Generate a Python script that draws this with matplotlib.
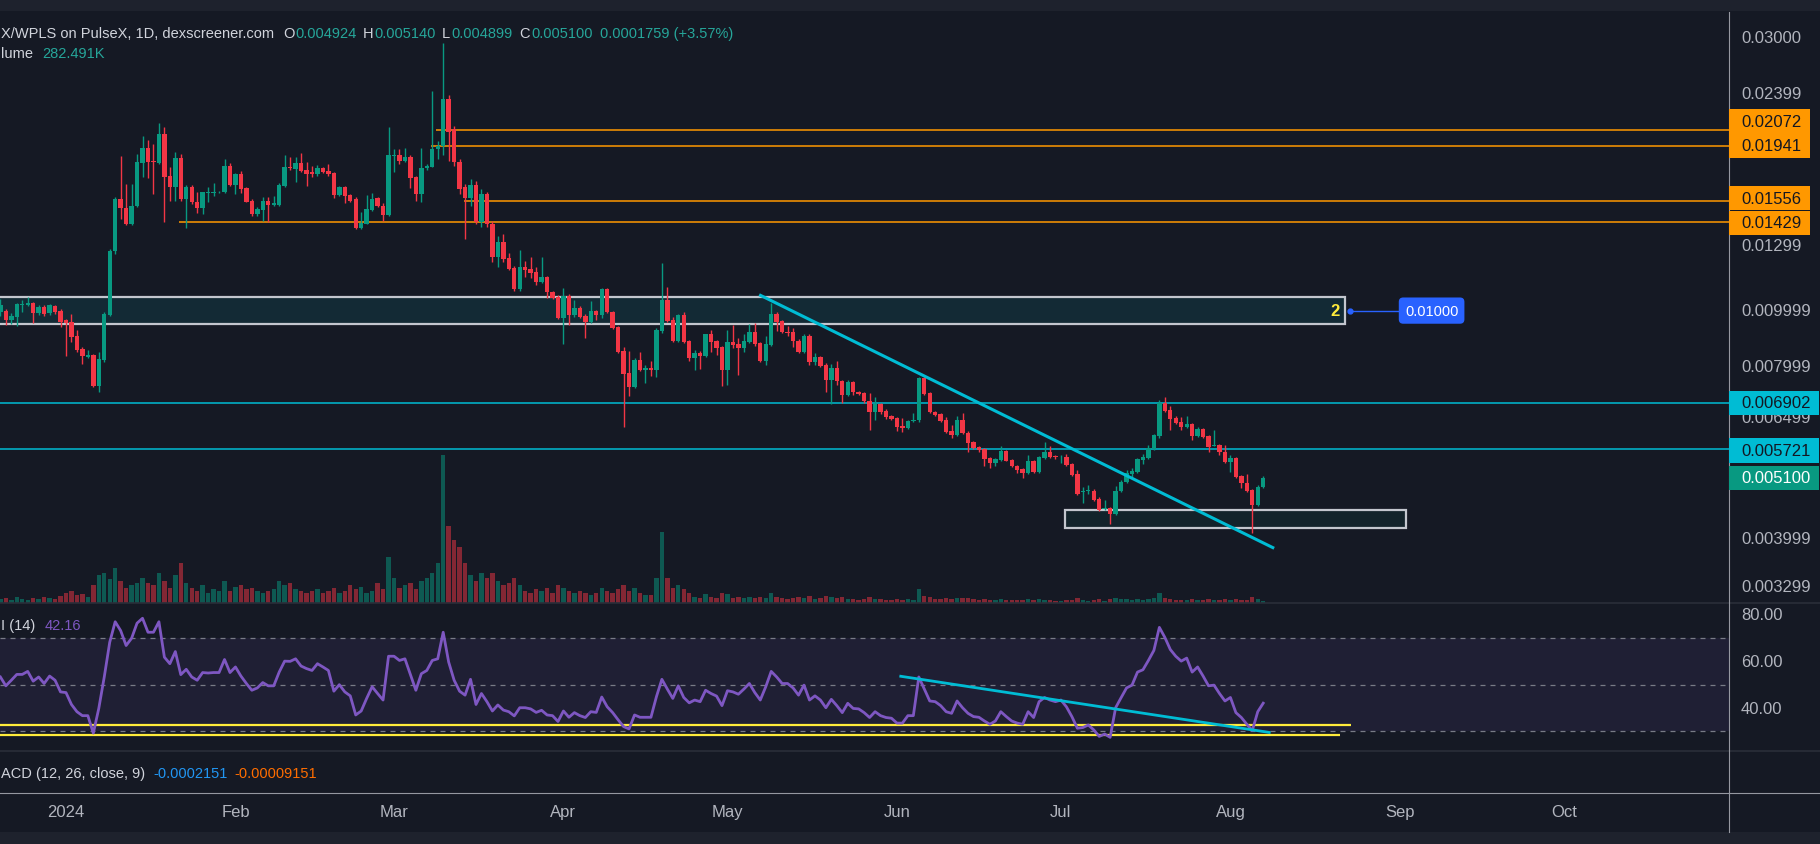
import numpy as np
import pandas as pd
import matplotlib
matplotlib.use("Agg")
import matplotlib.pyplot as plt
from matplotlib.patches import Rectangle
from matplotlib.lines import Line2D

plt.rcParams['font.family'] = ['Liberation Sans', 'DejaVu Sans']

# ---------------- data ----------------
start_date = "2023-12-20"
ref_date = "2024-01-01"

opens = [
    0.00994, 0.00999, 0.00961, 0.00976, 0.01021, 0.01021, 0.01032, 0.00991, 0.01014, 0.00990, 0.01018, 0.00999,
    0.00961, 0.00955, 0.00903, 0.00857, 0.00829, 0.00837, 0.00737, 0.00820, 0.00984, 0.01270,
    0.01567, 0.01509, 0.01418, 0.01525, 0.01811, 0.01924, 0.01828, 0.01811, 0.02035, 0.01721,
    0.01646, 0.01845, 0.01567, 0.01642, 0.01547, 0.01509, 0.01605, 0.01607, 0.01610, 0.01610,
    0.01787, 0.01660, 0.01733, 0.01636, 0.01556, 0.01476, 0.01501, 0.01556, 0.01531, 0.01531,
    0.01653, 0.01785, 0.01768, 0.01811, 0.01761, 0.01745, 0.01731, 0.01775, 0.01756, 0.01740,
    0.01595, 0.01646, 0.01593, 0.01567, 0.01393, 0.01418, 0.01501, 0.01573, 0.01525, 0.01470,
    0.01865, 0.01870, 0.01828, 0.01858, 0.01710, 0.01599, 0.01773, 0.01785, 0.01916, 0.01937,
    0.02342, 0.02076, 0.01821, 0.01644, 0.01573, 0.01658, 0.01427, 0.01599, 0.01418, 0.01243,
    0.01318, 0.01236, 0.01187, 0.01091, 0.01192, 0.01182, 0.01168, 0.01123, 0.01145, 0.01078,
    0.01057, 0.00971, 0.01061, 0.00983, 0.01011, 0.00979, 0.00956, 0.00999, 0.00983, 0.01091,
    0.00995, 0.00937, 0.00850, 0.00779, 0.00736, 0.00820, 0.00788, 0.00794, 0.00788, 0.00922,
    0.01044, 0.00963, 0.00885, 0.00983, 0.00885, 0.00826, 0.00844, 0.00833, 0.00910, 0.00885,
    0.00864, 0.00788, 0.00882, 0.00875, 0.00861, 0.00882, 0.00918, 0.00878, 0.00817, 0.00871,
    0.00987, 0.00959, 0.00918, 0.00916, 0.00885, 0.00847, 0.00903, 0.00813, 0.00830, 0.00804,
    0.00757, 0.00794, 0.00754, 0.00713, 0.00751, 0.00721, 0.00718, 0.00695, 0.00665, 0.00687,
    0.00668, 0.00655, 0.00649, 0.00629, 0.00624, 0.00642, 0.00643, 0.00763, 0.00718, 0.00665,
    0.00660, 0.00644, 0.00616, 0.00607, 0.00644, 0.00611, 0.00590, 0.00578, 0.00573, 0.00553,
    0.00542, 0.00549, 0.00569, 0.00549, 0.00535, 0.00529, 0.00521, 0.00547, 0.00523, 0.00553,
    0.00566, 0.00558, 0.00554, 0.00555, 0.00540, 0.00518, 0.00482, 0.00484, 0.00484, 0.00469,
    0.00450, 0.00452, 0.00441, 0.00484, 0.00502, 0.00518, 0.00523, 0.00549, 0.00553, 0.00573,
    0.00604, 0.00690, 0.00670, 0.00649, 0.00639, 0.00626, 0.00634, 0.00604, 0.00621, 0.00604,
    0.00581, 0.00583, 0.00566, 0.00544, 0.00553, 0.00514, 0.00500, 0.00486, 0.00458, 0.004924,
]
highs = [
    0.01048, 0.01007, 0.00991, 0.01030, 0.01044, 0.01058, 0.01035, 0.01021, 0.01021, 0.01025, 0.01023, 0.01007,
    0.00967, 0.00987, 0.00925, 0.00863, 0.00854, 0.00840, 0.00846, 0.00994, 0.01281, 0.01578,
    0.01865, 0.01665, 0.01665, 0.01878, 0.02016, 0.01989, 0.01955, 0.02124, 0.02090, 0.01780,
    0.01895, 0.01878, 0.01660, 0.01658, 0.01610, 0.01614, 0.01642, 0.01671, 0.01620, 0.01840,
    0.01811, 0.01738, 0.01756, 0.01642, 0.01567, 0.01515, 0.01582, 0.01578, 0.01588, 0.01671,
    0.01870, 0.01858, 0.01853, 0.01886, 0.01816, 0.01792, 0.01797, 0.01780, 0.01804, 0.01749,
    0.01653, 0.01653, 0.01599, 0.01578, 0.01485, 0.01595, 0.01603, 0.01582, 0.01540, 0.02096,
    0.01916, 0.01916, 0.01921, 0.01870, 0.01721, 0.01924, 0.01804, 0.02422, 0.01981, 0.02935,
    0.02381, 0.02104, 0.01840, 0.01665, 0.01698, 0.01685, 0.01631, 0.01612, 0.01435, 0.01352,
    0.01361, 0.01261, 0.01197, 0.01276, 0.01221, 0.01239, 0.01190, 0.01239, 0.01150, 0.01082,
    0.01065, 0.01094, 0.01070, 0.01044, 0.01019, 0.00987, 0.01039, 0.01003, 0.01095, 0.01095,
    0.00999, 0.00940, 0.00864, 0.00849, 0.00825, 0.00846, 0.00804, 0.00816, 0.00933, 0.01211,
    0.01098, 0.00974, 0.00987, 0.00994, 0.00889, 0.00854, 0.00850, 0.00912, 0.00926, 0.00889,
    0.00868, 0.00925, 0.00944, 0.00894, 0.00910, 0.00948, 0.00951, 0.00882, 0.00904, 0.01032,
    0.00994, 0.00963, 0.00939, 0.00932, 0.00892, 0.00910, 0.00912, 0.00842, 0.00833, 0.00809,
    0.00807, 0.00817, 0.00757, 0.00757, 0.00754, 0.00724, 0.00721, 0.00717, 0.00705, 0.00690,
    0.00673, 0.00657, 0.00651, 0.00649, 0.00643, 0.00662, 0.00766, 0.00766, 0.00721, 0.00667,
    0.00662, 0.00651, 0.00631, 0.00654, 0.00662, 0.00616, 0.00592, 0.00580, 0.00575, 0.00555,
    0.00553, 0.00581, 0.00571, 0.00551, 0.00538, 0.00531, 0.00560, 0.00549, 0.00558, 0.00590,
    0.00581, 0.00560, 0.00559, 0.00562, 0.00542, 0.00527, 0.00491, 0.00495, 0.00488, 0.00472,
    0.00467, 0.00454, 0.00493, 0.00506, 0.00527, 0.00531, 0.00553, 0.00562, 0.00583, 0.00609,
    0.00698, 0.00707, 0.00682, 0.00654, 0.00651, 0.00654, 0.00637, 0.00625, 0.00624, 0.00607,
    0.00619, 0.00585, 0.00583, 0.00559, 0.00555, 0.00516, 0.00518, 0.00488, 0.00496, 0.005140,
]
lows = [
    0.00980, 0.00942, 0.00948, 0.00939, 0.00994, 0.01018, 0.00951, 0.00983, 0.00980, 0.00983, 0.00987, 0.00935,
    0.00834, 0.00883, 0.00846, 0.00807, 0.00825, 0.00735, 0.00720, 0.00812, 0.00980, 0.01256,
    0.01446, 0.01412, 0.01412, 0.01515, 0.01710, 0.01703, 0.01599, 0.01804, 0.01427, 0.01556,
    0.01556, 0.01556, 0.01393, 0.01536, 0.01480, 0.01476, 0.01547, 0.01588, 0.01603, 0.01605,
    0.01653, 0.01599, 0.01605, 0.01547, 0.01466, 0.01466, 0.01436, 0.01431, 0.01525, 0.01525,
    0.01646, 0.01763, 0.01680, 0.01749, 0.01649, 0.01710, 0.01721, 0.01740, 0.01721, 0.01573,
    0.01588, 0.01540, 0.01547, 0.01389, 0.01389, 0.01414, 0.01495, 0.01515, 0.01436, 0.01466,
    0.01749, 0.01804, 0.01821, 0.01636, 0.01556, 0.01547, 0.01763, 0.01780, 0.01840, 0.01870,
    0.01828, 0.01792, 0.01599, 0.01334, 0.01525, 0.01418, 0.01399, 0.01399, 0.01215, 0.01190,
    0.01215, 0.01179, 0.01082, 0.01083, 0.01144, 0.01141, 0.01109, 0.01118, 0.01052, 0.01048,
    0.00967, 0.00875, 0.00942, 0.00976, 0.00971, 0.00896, 0.00952, 0.00961, 0.00971, 0.00991,
    0.00929, 0.00843, 0.00626, 0.00708, 0.00733, 0.00783, 0.00747, 0.00770, 0.00767, 0.00914,
    0.00956, 0.00882, 0.00882, 0.00878, 0.00818, 0.00786, 0.00791, 0.00830, 0.00848, 0.00838,
    0.00737, 0.00740, 0.00859, 0.00773, 0.00848, 0.00878, 0.00869, 0.00813, 0.00805, 0.00868,
    0.00923, 0.00914, 0.00904, 0.00865, 0.00843, 0.00843, 0.00802, 0.00805, 0.00797, 0.00722,
    0.00687, 0.00740, 0.00689, 0.00709, 0.00713, 0.00713, 0.00690, 0.00619, 0.00645, 0.00660,
    0.00647, 0.00643, 0.00617, 0.00614, 0.00621, 0.00638, 0.00640, 0.00713, 0.00662, 0.00655,
    0.00639, 0.00611, 0.00599, 0.00605, 0.00609, 0.00567, 0.00573, 0.00566, 0.00536, 0.00530,
    0.00536, 0.00547, 0.00545, 0.00533, 0.00520, 0.00510, 0.00518, 0.00521, 0.00521, 0.00551,
    0.00553, 0.00551, 0.00542, 0.00535, 0.00514, 0.00476, 0.00461, 0.00478, 0.00465, 0.00447,
    0.00448, 0.00423, 0.00440, 0.00482, 0.00500, 0.00511, 0.00521, 0.00539, 0.00551, 0.00571,
    0.00599, 0.00665, 0.00619, 0.00634, 0.00619, 0.00624, 0.00595, 0.00602, 0.00599, 0.00566,
    0.00579, 0.00560, 0.00542, 0.00523, 0.00510, 0.00490, 0.00482, 0.00408, 0.00456, 0.004899,
]
closes = [
    0.01021, 0.00961, 0.00980, 0.01025, 0.01026, 0.01030, 0.00991, 0.01014, 0.00987, 0.01021, 0.00996, 0.00955,
    0.00952, 0.00900, 0.00854, 0.00834, 0.00837, 0.00737, 0.00823, 0.00987, 0.01270, 0.01567,
    0.01509, 0.01418, 0.01525, 0.01816, 0.01924, 0.01821, 0.01818, 0.02035, 0.01714, 0.01646,
    0.01845, 0.01567, 0.01642, 0.01547, 0.01509, 0.01610, 0.01614, 0.01612, 0.01614, 0.01787,
    0.01660, 0.01733, 0.01631, 0.01550, 0.01476, 0.01505, 0.01556, 0.01530, 0.01540, 0.01660,
    0.01785, 0.01778, 0.01811, 0.01756, 0.01733, 0.01731, 0.01775, 0.01749, 0.01733, 0.01595,
    0.01646, 0.01588, 0.01556, 0.01393, 0.01423, 0.01505, 0.01567, 0.01522, 0.01471, 0.01870,
    0.01872, 0.01828, 0.01858, 0.01705, 0.01599, 0.01773, 0.01792, 0.01916, 0.01942, 0.02342,
    0.02054, 0.01821, 0.01631, 0.01573, 0.01658, 0.01427, 0.01599, 0.01418, 0.01243, 0.01318,
    0.01231, 0.01182, 0.01091, 0.01192, 0.01177, 0.01164, 0.01123, 0.01145, 0.01078, 0.01052,
    0.00971, 0.01061, 0.00983, 0.01011, 0.00975, 0.00956, 0.00999, 0.00983, 0.01091, 0.00995,
    0.00933, 0.00847, 0.00775, 0.00736, 0.00820, 0.00788, 0.00794, 0.00788, 0.00925, 0.01044,
    0.00959, 0.00885, 0.00983, 0.00882, 0.00826, 0.00844, 0.00833, 0.00910, 0.00882, 0.00861,
    0.00788, 0.00882, 0.00871, 0.00861, 0.00885, 0.00918, 0.00875, 0.00817, 0.00875, 0.00987,
    0.00956, 0.00918, 0.00914, 0.00885, 0.00847, 0.00903, 0.00813, 0.00830, 0.00800, 0.00757,
    0.00794, 0.00754, 0.00713, 0.00751, 0.00721, 0.00716, 0.00695, 0.00665, 0.00687, 0.00665,
    0.00652, 0.00647, 0.00626, 0.00624, 0.00642, 0.00644, 0.00763, 0.00716, 0.00665, 0.00657,
    0.00642, 0.00614, 0.00607, 0.00644, 0.00611, 0.00588, 0.00576, 0.00571, 0.00551, 0.00542,
    0.00551, 0.00569, 0.00547, 0.00535, 0.00527, 0.00521, 0.00547, 0.00523, 0.00555, 0.00566,
    0.00555, 0.00555, 0.00555, 0.00538, 0.00516, 0.00478, 0.00484, 0.00485, 0.00467, 0.00448,
    0.00452, 0.00441, 0.00484, 0.00502, 0.00521, 0.00525, 0.00551, 0.00555, 0.00576, 0.00607,
    0.00690, 0.00668, 0.00647, 0.00637, 0.00626, 0.00634, 0.00604, 0.00621, 0.00602, 0.00578,
    0.00583, 0.00566, 0.00544, 0.00553, 0.00512, 0.00500, 0.00484, 0.00458, 0.004924, 0.005100,
]
volumes_k = [
    760, 950, 570, 1140, 760, 570, 950, 760, 1140, 950, 760, 1330,
    1900, 2280, 1520, 1710, 1140, 3420, 5320, 5700, 4560, 6650, 4180, 2850, 3420, 3800,
    4750, 3800, 3420, 5700, 4180, 2850, 5320, 7600, 3800, 2850, 2280, 3420, 1900, 2660, 2280, 4180, 2280,
    3040, 3420, 2660, 2850, 2280, 1900, 2280, 2660, 4180, 3420, 3800, 2660, 2280, 1900, 2280, 2660, 1900,
    2280, 2850, 1900, 2280, 3420, 2660, 3040, 1900, 2280, 3800, 2660,
    8550, 4750, 2850, 3420, 3800, 2660, 4180, 4750, 5700, 7600, 27740, 14440, 11780, 10450, 7600, 5320,
    4180, 5700, 4750, 5700,
    4180, 3420, 3800, 4750, 3420, 2280, 1900, 2660, 2280, 2850, 1900, 3420, 2850, 2280, 1900, 2280, 1900,
    1520, 1900, 2850, 2280, 1900, 2660, 3420, 2280, 2850, 1900, 1520, 1520, 4750, 13300, 4750, 2850, 3420, 2660,
    1900, 1140, 950, 1710, 1140, 950, 1900, 1710, 950, 1140,
    950, 1140, 950, 1140, 950, 1900, 1140, 950, 760, 950,
    1140, 950, 1330, 760, 950, 1330, 1140, 950, 1140, 760,
    760, 570, 760, 1140, 760, 760, 570, 570, 760, 570,
    760, 570, 2660, 1330, 1140, 760, 760, 950, 760, 950,
    950, 950, 760, 570, 760, 570, 570, 760, 570, 570,
    570, 570, 760, 570, 760, 570, 570, 380, 380, 570,
    570, 950, 570, 380, 570, 760, 380, 760, 950, 760,
    760, 570, 760, 570, 760, 950, 1900, 950, 760, 570,
    570, 570, 760, 570, 570, 760, 570, 570, 760, 570,
    760, 570, 570, 1140, 760, 282.491,
]
rsi_values = [
    53.4, 49.6, 52.0, 54.5, 54.5, 55.8, 51.6, 53.4, 50.6, 53.8, 52.0, 47.0,
    46.7, 41.6, 38.5, 36.8, 36.8, 29.3, 39.9, 53.4, 68.3, 77.1,
    73.3, 66.9, 70.0, 76.5, 78.6, 72.6, 72.6, 77.1, 61.9, 59.1,
    64.3, 54.4, 56.7, 53.4, 52.0, 55.3, 55.1, 55.3, 55.3, 60.9,
    55.3, 57.7, 53.8, 50.6, 47.7, 48.7, 51.0, 49.6, 49.6, 55.5,
    60.2, 60.1, 61.2, 58.1, 57.0, 56.2, 59.1, 57.7, 56.2, 47.3,
    50.1, 47.0, 45.3, 37.1, 38.8, 44.2, 49.2, 46.3, 43.5, 62.3,
    62.3, 60.5, 61.2, 54.4, 47.7, 54.8, 56.2, 60.5, 61.2, 72.6,
    59.8, 52.0, 47.3, 45.6, 52.4, 41.6, 46.3, 42.8, 38.8, 41.4,
    39.2, 38.5, 36.7, 40.2, 40.2, 39.7, 38.2, 39.1, 37.1, 36.8,
    34.3, 38.8, 36.1, 38.1, 36.8, 36.0, 38.5, 38.2, 44.8, 40.6,
    38.1, 35.0, 32.1, 31.1, 37.1, 36.1, 36.1, 36.1, 44.9, 52.4,
    48.2, 44.2, 49.6, 44.6, 42.3, 43.5, 42.8, 47.7, 46.3, 45.2,
    41.1, 47.5, 47.0, 46.0, 48.2, 50.6, 46.7, 43.5, 49.2, 55.8,
    53.4, 50.6, 50.6, 48.7, 45.6, 49.9, 43.5, 45.3, 43.5, 40.2,
    43.8, 41.1, 38.1, 42.1, 39.9, 39.7, 38.1, 36.0, 38.5, 36.8,
    36.0, 35.7, 33.6, 33.6, 36.8, 36.8, 53.4, 48.2, 43.1, 42.8,
    41.1, 38.5, 37.8, 43.1, 40.2, 37.8, 36.4, 36.1, 34.5, 33.1,
    34.5, 38.5, 36.4, 34.5, 33.6, 33.1, 38.5, 36.0, 42.8, 44.6,
    43.5, 42.8, 43.5, 40.6, 36.4, 31.4, 31.7, 32.8, 30.7, 27.9,
    28.9, 27.5, 40.2, 44.5, 48.7, 49.9, 55.5, 56.5, 60.5, 64.8,
    74.7, 70.4, 65.2, 62.3, 60.2, 61.5, 55.5, 57.7, 53.8, 49.6,
    49.9, 46.3, 43.1, 44.6, 38.1, 36.0, 33.1, 30.4, 38.5, 42.16,
]

month_labels = ['2024', 'Feb', 'Mar', 'Apr', 'May', 'Jun', 'Jul', 'Aug', 'Sep', 'Oct']
month_dates = ['2024-01-01', '2024-02-01', '2024-03-01', '2024-04-01', '2024-05-01',
               '2024-06-01', '2024-07-01', '2024-08-01', '2024-09-01', '2024-10-01']

price_ticks = [0.03, 0.02399, 0.01299, 0.009999, 0.007999, 0.006499, 0.003999, 0.003299]
price_tick_labels = ['0.03000', '0.02399', '0.01299', '0.009999', '0.007999', '0.006499', '0.003999', '0.003299']
rsi_ticks = [80, 60, 40]
rsi_tick_labels = ['80.00', '60.00', '40.00']

# drawings
orange_levels = [0.02072, 0.01941, 0.01556, 0.01429]
orange_start_days = [67.7, 66.8, 72.8, 20.7]
cyan_levels = [0.006902, 0.005721]
zone_upper = (0.00948, 0.01058, 234.0)        # low, high, right end (days)
zone_lower = (0.004163, 0.004488, 182.7, 245.1)
trend_days = [126.8, 221.0]
trend_prices = [0.01066, 0.003844]
rsi_trend_days = [152.7, 220.1]
rsi_trend_vals = [53.7, 29.6]
rsi_yellow = [(32.6, 235.0), (28.5, 233.0)]
alert_price = 0.01

axis_labels_price = ['0.02072', '0.01941', '0.01556', '0.01429', '0.006902', '0.005721', '0.005100']
axis_labels_value = [0.02072, 0.01941, 0.01556, 0.01429, 0.006902, 0.005721, 0.005100]
axis_labels_color = ['#ff9800'] * 4 + ['#00bcd4'] * 2 + ['#089981']
axis_labels_tcolor = ['#131722'] * 6 + ['#ffffff']
axis_labels_shift = [8, 0, 2.5, -1, 0, -1, 0]
axis_labels_width = [81, 81, 81, 81, 90, 90, 90]

# ---------------- layout ----------------
W, H = 1820, 845
BG = '#151924'
UP, DN = '#089981', '#f23645'
TXT = '#b2b5be'
XMIN, XMAX = -12.07, 304.2
PMIN, PMAX = 0.0030844, 0.033241
RMIN, RMAX = 21.63, 85.15
AX_R = 1729

o = np.array(opens); h = np.array(highs); l = np.array(lows); c = np.array(closes)
vols = np.array(volumes_k, dtype=float)
rsi = np.array(rsi_values)
dates = pd.date_range(start_date, periods=len(closes), freq='D')
x = np.asarray((dates - pd.Timestamp(ref_date)).days, dtype=float)
up = c >= o
ccol = np.where(up, UP, DN)


def axrect(x0, y0, x1, y1):
    return [x0 / W, 1 - y1 / H, (x1 - x0) / W, (y1 - y0) / H]


fig = plt.figure(figsize=(W / 100, H / 100), dpi=100)
fig.patch.set_facecolor(BG)

# top / bottom strips
fig.add_artist(Rectangle((0, 1 - 12 / H), 1, 12 / H, transform=fig.transFigure,
                         facecolor='#1e222d', edgecolor='none', zorder=0))
fig.add_artist(Rectangle((0, 0), 1, 12 / H, transform=fig.transFigure,
                         facecolor='#1e222d', edgecolor='none', zorder=0))

# ---- volume (overlay in price pane) ----
ax_vol = fig.add_axes(axrect(0, 13, AX_R, 604))
ax_vol.set_axis_off()
ax_vol.bar(x, vols, width=0.8, color=ccol, alpha=0.5, linewidth=0)
ax_vol.set_xlim(XMIN, XMAX)
ax_vol.set_ylim(0, vols.max() * 4.0)

# ---- price pane ----
ax = fig.add_axes(axrect(0, 13, AX_R, 604))
ax.set_axis_off()
ax.set_yscale('log')
ax.set_xlim(XMIN, XMAX)
ax.set_ylim(PMIN, PMAX)

# zones
zl, zh, zr = zone_upper
ax.add_patch(Rectangle((XMIN - 5, zl), zr - XMIN + 5, zh - zl, facecolor='#132a35',
                       edgecolor='#c3c6ce', linewidth=1.6, zorder=1))
bl, bh, bx0, bx1 = zone_lower
ax.add_patch(Rectangle((bx0, bl), bx1 - bx0, bh - bl, facecolor='#13232b',
                       edgecolor='#c3c6ce', linewidth=1.6, zorder=1))

# horizontal levels
for lv, sd in zip(orange_levels, orange_start_days):
    ax.hlines(lv, sd, XMAX, color='#ff9800', linewidth=1.1, zorder=2)
for lv in cyan_levels:
    ax.hlines(lv, XMIN, XMAX, color='#00bcd4', linewidth=1.1, zorder=2)

# candles
ax.vlines(x, l, h, colors=ccol, linewidth=1.0, zorder=3)
blo = np.minimum(o, c); bhi = np.maximum(o, c)
ax.bar(x, bhi - blo, bottom=blo, width=0.8, color=ccol, linewidth=0, zorder=4)

# trend line
ax.plot(trend_days, trend_prices, color='#00bcd4', linewidth=2.2, solid_capstyle='butt', zorder=5)

# zone label "2" and alert marker
ax.text(zr - 1.9, alert_price * 1.002, '2', color='#ffeb3b', fontsize=12, fontweight='bold',
        ha='center', va='center', zorder=6)
ax.plot([zr + 0.9, zr + 9.6], [alert_price, alert_price], color='#2962ff', linewidth=1.0, zorder=6)
ax.plot([zr + 0.9], [alert_price], 'o', color='#2962ff', markersize=3.5, zorder=6)
ax.text(zr + 15.8, alert_price, '0.01000', color='white', fontsize=10.5, ha='center', va='center',
        zorder=7, bbox=dict(boxstyle='round,pad=0.42,rounding_size=0.3', fc='#2962ff', ec='none'))

# ---- RSI pane ----
ax_r = fig.add_axes(axrect(0, 604, AX_R, 752))
ax_r.set_axis_off()
ax_r.set_xlim(XMIN, XMAX)
ax_r.set_ylim(RMIN, RMAX)
ax_r.axhspan(30, 70, color='#7e57c2', alpha=0.1, linewidth=0)
for lv in (70, 50, 30):
    ax_r.axhline(lv, color='#787b86', linewidth=0.9, dashes=(4, 4))
for val, xe in rsi_yellow:
    ax_r.hlines(val, XMIN, xe, color='#ffeb3b', linewidth=1.6)
ax_r.plot(x, rsi, color='#7e57c2', linewidth=2.0, solid_joinstyle='round')
ax_r.plot(rsi_trend_days, rsi_trend_vals, color='#00bcd4', linewidth=2.0)

# ---- separators ----
for yy, col in ((604, '#2a2e39'), (752, '#2a2e39')):
    fig.add_artist(Line2D([0, 1], [1 - yy / H] * 2, transform=fig.transFigure, color=col, linewidth=1.2, zorder=2))
fig.add_artist(Line2D([0, 1], [1 - 794 / H] * 2, transform=fig.transFigure, color='#9598a1', linewidth=0.8, zorder=2))
fig.add_artist(Line2D([AX_R / W] * 2, [1 - 833 / H, 1 - 13 / H], transform=fig.transFigure,
                      color='#9598a1', linewidth=0.8, zorder=2))


def fy_price(p):
    return ax.transData.transform((0, p))[1] / H


def fy_rsi(v):
    return ax_r.transData.transform((0, v))[1] / H


def fx_day(d):
    return ax.transData.transform((d, PMIN * 2))[0] / W


# right-axis tick labels
for p, lab in zip(price_ticks, price_tick_labels):
    fig.text(1741 / W, fy_price(p), lab, color=TXT, fontsize=12, ha='left', va='center', zorder=4)
for v, lab in zip(rsi_ticks, rsi_tick_labels):
    fig.text(1741 / W, fy_rsi(v), lab, color=TXT, fontsize=12, ha='left', va='center', zorder=4)

# coloured price labels
for lab, val, fc, tc, sh, wd in zip(axis_labels_price, axis_labels_value, axis_labels_color,
                                    axis_labels_tcolor, axis_labels_shift, axis_labels_width):
    yc = fy_price(val) + sh / H
    fig.add_artist(Rectangle((AX_R / W, yc - 12.25 / H), wd / W, 24.5 / H, transform=fig.transFigure,
                             facecolor=fc, edgecolor='none', zorder=5))
    fig.text(1741 / W, yc, lab, color=tc, fontsize=12, ha='left', va='center', zorder=6)

# time axis labels
for lab, dstr in zip(month_labels, month_dates):
    d = (pd.Timestamp(dstr) - pd.Timestamp(ref_date)).days
    fig.text(fx_day(d), 1 - 813 / H, lab, color=TXT, fontsize=12, ha='center', va='center')

# ---- legends / headers ----
HDR = '#d1d4dc'
VAL = '#26a69a'
y1 = 1 - 34 / H
fig.text(1 / W, y1, 'X/WPLS on PulseX, 1D, dexscreener.com', color=HDR, fontsize=10.5, va='center')
for letter, val, xl, xv in (('O', '0.004924', 283, 295), ('H', '0.005140', 363, 374),
                            ('L', '0.004899', 442, 451), ('C', '0.005100', 519, 531)):
    fig.text(xl / W, y1, letter, color=HDR, fontsize=10.5, va='center')
    fig.text(xv / W, y1, val, color=VAL, fontsize=10.5, va='center')
fig.text(600 / W, y1, '0.0001759 (+3.57%)', color=VAL, fontsize=10.5, va='center')
y2 = 1 - 54 / H
fig.text(1 / W, y2, 'lume', color=HDR, fontsize=10.5, va='center')
fig.text(42 / W, y2, '282.491K', color=VAL, fontsize=10.5, va='center')

yr = 1 - 626 / H
fig.text(1 / W, yr, 'I (14)', color=HDR, fontsize=10.5, va='center')
fig.text(45 / W, yr, '42.16', color='#7e57c2', fontsize=10.5, va='center')

ym = 1 - 774 / H
fig.text(1 / W, ym, 'ACD (12, 26, close, 9)', color=HDR, fontsize=10.5, va='center')
fig.text(153 / W, ym, '-0.0002151', color='#2196f3', fontsize=10.5, va='center')
fig.text(234 / W, ym, '-0.00009151', color='#ff6d00', fontsize=10.5, va='center')

fig.savefig('out.png', dpi=100, facecolor=BG)
